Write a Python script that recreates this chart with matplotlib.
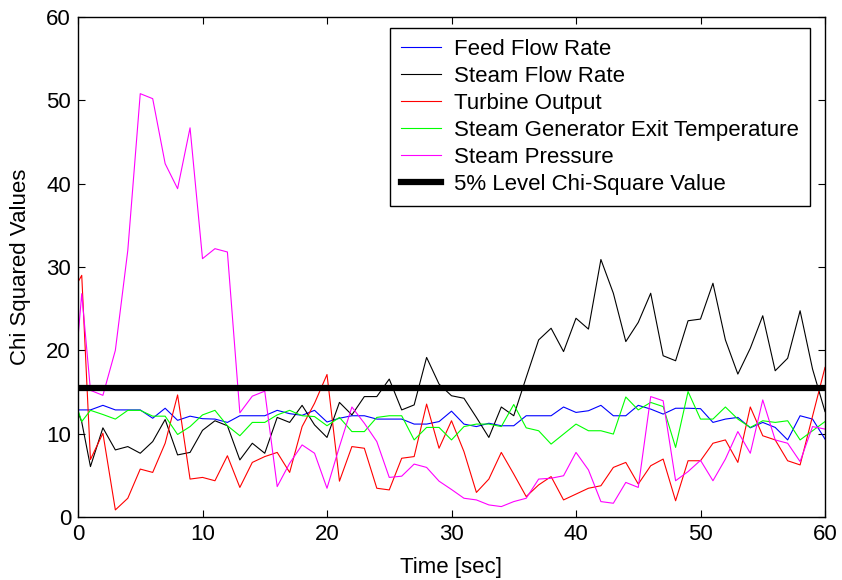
import numpy as np
import matplotlib
matplotlib.use('Agg')
import matplotlib.pyplot as plt

plt.rcParams['font.family'] = ['Liberation Sans', 'DejaVu Sans']

# time axis (first sample pair sits just after zero)
time = [0, 0.3] + list(range(1, 61))

feed_flow = [12.85, 12.85, 12.85, 13.4, 12.85, 12.85, 12.85, 11.85, 13.05, 11.6, 12.1,
             11.8, 11.75, 11.35, 12.15, 12.15, 12.15, 12.8, 12.4, 12.2, 12.8,
             11.4, 11.85, 12.15, 12.15, 11.75, 11.75, 11.75, 11.15, 11.15, 11.45,
             12.7, 11.15, 10.85, 11.25, 10.95, 10.95, 12.15, 12.15, 12.15, 13.2,
             12.55, 12.75, 13.4, 12.15, 12.15, 13.4, 12.95, 12.35, 13.05, 13.05,
             13.0, 11.35, 11.75, 11.95, 10.7, 11.35, 10.75, 9.25, 12.15, 11.75, 9.35]

steam_flow = [12.6, 11.4, 6.05, 10.7, 8.05, 8.45, 7.65, 9.05, 11.7, 7.45, 7.75,
              10.4, 11.55, 10.95, 6.85, 8.85, 7.65, 11.95, 11.35, 13.4, 11.05,
              9.55, 13.75, 12.25, 14.45, 14.45, 16.55, 12.85, 13.45, 19.15, 15.95,
              14.55, 14.25, 11.95, 9.55, 13.2, 12.15, 16.75, 21.25, 22.65, 19.85,
              23.85, 22.55, 30.9, 26.85, 21.05, 23.35, 26.85, 19.35, 18.75, 23.55,
              23.75, 28.05, 21.25, 17.15, 20.25, 24.15, 17.55, 19.05, 24.75, 17.75, 12.65]

turbine = [28.2, 29.0, 6.9, 10.05, 0.85, 2.25, 5.75, 5.35, 8.85, 14.65, 4.55,
           4.75, 4.35, 7.35, 3.55, 6.55, 7.25, 7.75, 5.35, 10.85, 13.65,
           17.1, 4.3, 8.45, 8.25, 3.45, 3.25, 7.05, 7.25, 13.55, 8.25,
           11.55, 7.85, 2.95, 4.55, 7.75, 5.15, 2.45, 3.85, 4.85, 2.05,
           2.75, 3.45, 3.75, 5.95, 6.55, 3.95, 6.15, 6.95, 1.95, 6.75,
           6.75, 8.85, 9.25, 6.55, 13.2, 9.75, 9.25, 6.75, 6.25, 12.1, 17.95]

sg_exit_temp = [12.8, 11.45, 12.8, 12.3, 11.75, 12.8, 12.8, 12.1, 12.1, 9.9, 10.85,
                12.25, 12.8, 10.95, 9.75, 11.35, 11.35, 12.25, 12.8, 12.15, 12.05,
                10.95, 11.95, 10.25, 10.25, 11.95, 12.15, 12.15, 9.25, 10.75, 10.75,
                9.25, 10.85, 11.15, 11.15, 10.85, 13.5, 10.7, 10.35, 8.75, 9.95,
                11.15, 10.35, 10.35, 9.95, 14.4, 12.85, 13.75, 13.25, 8.35, 15.05,
                11.75, 11.75, 13.2, 11.75, 10.75, 11.55, 11.35, 11.55, 9.25, 10.35, 11.45]

steam_pressure = [21.5, 26.8, 15.2, 14.6, 20.0, 32.0, 50.8, 50.2, 42.4, 39.4, 46.7,
                  31.0, 32.2, 31.8, 12.5, 14.5, 15.1, 3.65, 6.45, 8.65, 7.65,
                  3.45, 8.45, 13.2, 11.25, 9.05, 4.75, 4.9, 6.35, 5.95, 4.3,
                  3.3, 2.25, 2.05, 1.45, 1.25, 1.85, 2.25, 4.55, 4.65, 4.95,
                  7.75, 5.65, 1.85, 1.65, 4.15, 3.55, 14.45, 13.95, 4.35, 5.45,
                  6.8, 4.35, 6.95, 10.25, 7.65, 14.05, 9.25, 8.85, 6.65, 10.85, 10.55]

chi_square_5pct = 15.51

fig = plt.figure(figsize=(8.42, 5.8), dpi=100)
ax = fig.add_axes([78 / 842, 63 / 580, 747 / 842, 500 / 580])

ax.plot(time, feed_flow, color=(0, 0, 1), lw=0.8, label='Feed Flow Rate')
ax.plot(time, steam_flow, color='black', lw=0.8, label='Steam Flow Rate')
ax.plot(time, turbine, color=(1, 0, 0), lw=0.8, label='Turbine Output')
ax.plot(time, sg_exit_temp, color=(0, 1, 0), lw=0.8, label='Steam Generator Exit Temperature')
ax.plot(time, steam_pressure, color=(1, 0, 1), lw=0.8, label='Steam Pressure')
ax.plot([time[0], time[-1]], [chi_square_5pct, chi_square_5pct], color='black', lw=4.5,
        label='5% Level Chi-Square Value')

ax.set_xlim(0, 60)
ax.set_ylim(0, 60)
ax.set_xticks(np.arange(0, 61, 10))
ax.set_yticks(np.arange(0, 61, 10))
ax.tick_params(direction='in', length=5, width=0.8, top=True, right=True, labelsize=16, pad=5)
for s in ax.spines.values():
    s.set_linewidth(1.0)

ax.set_xlabel('Time [sec]', fontsize=16, labelpad=9)
ax.set_ylabel('Chi Squared Values', fontsize=16, labelpad=11)

leg = ax.legend(loc='upper right', bbox_to_anchor=(732 / 747, 489 / 500), borderaxespad=0,
                fontsize=16, fancybox=False, framealpha=1, edgecolor='black',
                handlelength=1.8, handletextpad=0.6, labelspacing=0.27, borderpad=0.5)
leg.get_frame().set_linewidth(1.0)

fig.savefig('out.png', dpi=100)
